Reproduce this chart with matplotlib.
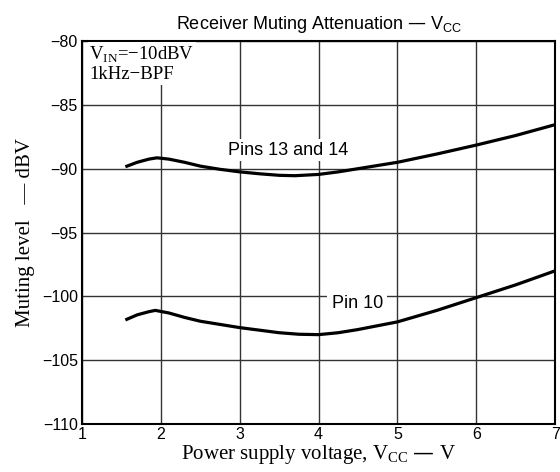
import matplotlib
matplotlib.use("Agg")
import matplotlib.pyplot as plt

# Pins 13 and 14
vcc_upper = [1.55, 1.7, 1.85, 1.95, 2.1, 2.3, 2.5, 2.75, 3.0, 3.25, 3.5, 3.7, 4.0, 4.25, 4.5, 4.75, 5.0, 5.5, 6.0, 6.5, 7.0]
lvl_upper = [-89.85, -89.5, -89.25, -89.15, -89.25, -89.5, -89.8, -90.05, -90.25, -90.4, -90.52, -90.55, -90.45, -90.25, -90.0, -89.75, -89.5, -88.85, -88.15, -87.4, -86.55]

# Pin 10
vcc_lower = [1.55, 1.7, 1.85, 1.93, 2.1, 2.3, 2.5, 2.75, 3.0, 3.25, 3.5, 3.75, 4.0, 4.25, 4.5, 4.75, 5.0, 5.5, 6.0, 6.5, 7.0]
lvl_lower = [-101.85, -101.45, -101.2, -101.1, -101.3, -101.65, -101.95, -102.2, -102.45, -102.65, -102.85, -102.97, -103.0, -102.85, -102.6, -102.3, -102.0, -101.1, -100.1, -99.1, -98.0]

xticks = [1, 2, 3, 4, 5, 6, 7]
yticks = [-110, -105, -100, -95, -90, -85, -80]
ytick_labels = ["\u2212110", "\u2212105", "\u2212100", "\u221295", "\u221290", "\u221285", "\u221280"]

sans = "Liberation Sans"
serif = "Liberation Serif"

fig = plt.figure(figsize=(5.6, 4.72), dpi=100)
ax = fig.add_axes([0.1464, 0.1017, 0.845, 0.8114])

ax.set_xlim(1, 7)
ax.set_ylim(-110, -80)
ax.set_xticks(xticks)
ax.set_yticks(yticks)
ax.set_xticklabels([str(t) for t in xticks], family=sans, fontsize=11.5)
ax.set_yticklabels(ytick_labels, family=sans, fontsize=11.5)
ax.tick_params(axis="x", length=0, pad=2)
ax.tick_params(axis="y", length=0, pad=3)
for lbl in ax.get_yticklabels():
    lbl.set_verticalalignment("center_baseline")
ax.grid(True, color="#333333", linewidth=1.0)
ax.set_axisbelow(True)
for s in ax.spines.values():
    s.set_linewidth(1.5)
    s.set_color("black")

ax.plot(vcc_upper, lvl_upper, color="black", linewidth=2.3, solid_capstyle="butt")
ax.plot(vcc_lower, lvl_lower, color="black", linewidth=2.3, solid_capstyle="butt")

box = dict(facecolor="white", edgecolor="none", pad=1.5)
ax.text(3.62, -88.55, "Pins 13 and 14", family=sans, fontsize=13, ha="center", va="center", bbox=box)
ax.text(4.49, -100.6, "Pin 10", family=sans, fontsize=13, ha="center", va="center",
        bbox=dict(facecolor="white", edgecolor="none", pad=3))
ax.text(1.09, -80.3, "V$_{\\mathregular{IN}}$=\u221210dBV\n1kHz\u2212BPF",
        family=serif, fontsize=13.5, ha="left", va="top", linespacing=1.1,
        bbox=dict(facecolor="white", edgecolor="none", pad=1))

ax.set_title("Receiver Muting Attenuation \u2014 V$_{\\mathregular{CC}}$", family=sans, fontsize=13, pad=9)
ax.set_xlabel("Power supply voltage, V$_{\\mathregular{CC}}$ \u2014 V", family=serif, fontsize=15, labelpad=1)
ax.set_ylabel("Muting level   \u2014 dBV", family=serif, fontsize=15, labelpad=5)

fig.savefig("out.png", dpi=100)
